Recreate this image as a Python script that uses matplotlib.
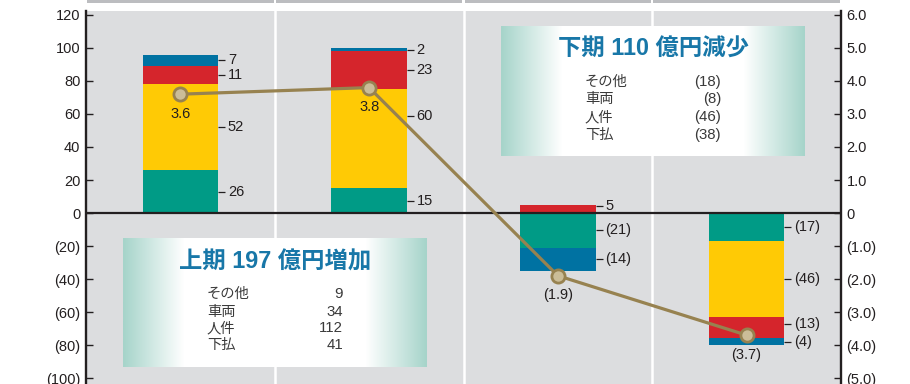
import numpy as np
import matplotlib
matplotlib.use("Agg")
import matplotlib.pyplot as plt
from matplotlib.patches import Rectangle
import matplotlib.transforms as mtransforms

plt.rcParams['font.family'] = ['Liberation Sans', 'Noto Sans CJK JP']

# data (億円) -- stacked bars per half-year column
shitabarai = [26, 15, -21, -17]   # teal
jinken = [52, 60, 0, -46]         # yellow
sharyo = [11, 23, 5, -13]         # red
sonota = [7, 2, -14, -4]          # blue
ratio = [3.6, 3.8, -1.9, -3.7]    # right axis line

y_ticks = [-100, -80, -60, -40, -20, 0, 20, 40, 60, 80, 100, 120]
y2_ticks = [-5.0, -4.0, -3.0, -2.0, -1.0, 0, 1.0, 2.0, 3.0, 4.0, 5.0, 6.0]

box_rows = ['その他', '車両', '人件', '下払']
box1_title = '上期 197 億円増加'
box1_vals = ['9', '34', '112', '41']
box2_title = '下期 110 億円減少'
box2_vals = ['(18)', '(8)', '(46)', '(38)']

series = [shitabarai, jinken, sharyo, sonota]
colors = ['#009b86', '#ffca05', '#d5252c', '#0072a2']
BG = '#dcdddf'
INK = '#231f20'
LINE = '#978250'


def paren(v, fmt='{:g}'):
    if v < 0:
        return '(' + fmt.format(-v) + ')'
    return fmt.format(v)


fig = plt.figure(figsize=(9.1, 3.84), dpi=100)
ax = fig.add_axes([86 / 910, 0, (841 - 86) / 910, 373 / 384])
ax.set_facecolor(BG)

x = np.arange(4)
width = 0.4
pos_bottom = np.zeros(4)
neg_bottom = np.zeros(4)
label_spots = []
for vals, c in zip(series, colors):
    vals = np.array(vals, dtype=float)
    bottom = np.where(vals >= 0, pos_bottom, neg_bottom)
    ax.bar(x, vals, width, bottom=bottom, color=c, zorder=3, linewidth=0)
    for i, v in enumerate(vals):
        if v != 0:
            label_spots.append((i, bottom[i] + v / 2, v))
    pos_bottom += np.where(vals > 0, vals, 0)
    neg_bottom += np.where(vals < 0, vals, 0)

# small nudges where the reference moves a label off its segment centre
nudge = {(2, 5.0): 1.9, (3, -13.0): 2.2, (1, 60.0): 14}
for i, ymid, v in label_spots:
    ymid += nudge.get((i, v), 0)
    x0 = i + width / 2
    ax.plot([x0, x0 + 0.037], [ymid, ymid], color=INK, lw=0.9, zorder=4,
            solid_capstyle='butt')
    ax.text(x0 + 0.052, ymid, paren(v), va='center', ha='left',
            fontsize=10.5, color=INK, zorder=4)

ax.set_xlim(-0.5, 3.5)
ax.set_ylim(-103.6, 122.4)
ax.set_xticks([])
ax.set_yticks(y_ticks)
ax.set_yticklabels([paren(v) for v in y_ticks])
for xs in [0.5, 1.5, 2.5]:
    ax.axvline(xs, color='white', lw=1.8, zorder=1)
ax.axhline(0, color=INK, lw=1.6, zorder=5)

for s in ['top', 'bottom', 'right']:
    ax.spines[s].set_visible(False)
ax.spines['left'].set_linewidth(1.7)
ax.spines['left'].set_color(INK)
ax.tick_params(axis='y', direction='in', length=5, width=1, colors=INK,
               labelsize=10.5, pad=4)

# header strip above the plot
blend = mtransforms.blended_transform_factory(ax.transData, ax.transAxes)
for i in range(4):
    ax.add_patch(Rectangle((i - 0.5 + 0.006, 1.0205), 1 - 0.012, 0.01,
                           transform=blend, color='#bcbdc0', clip_on=False,
                           lw=0))

ax2 = ax.twinx()
ax2.set_ylim(-103.6 / 20, 122.4 / 20)
ax2.set_yticks(y2_ticks)
ax2.set_yticklabels([paren(v, '{:.1f}') if v != 0 else '0' for v in y2_ticks])
for s in ['top', 'bottom', 'left']:
    ax2.spines[s].set_visible(False)
ax2.spines['right'].set_linewidth(1.7)
ax2.spines['right'].set_color(INK)
ax2.tick_params(axis='y', direction='in', length=5, width=1, colors=INK,
                labelsize=10.5, pad=4)
ax2.plot(x, ratio, color=LINE, lw=2.3, marker='o', ms=9.5,
         mfc='#cbbd98', mec=LINE, mew=2, zorder=6)
for i, v in enumerate(ratio):
    ax2.annotate(paren(v, '{:.1f}'), (i, v), xytext=(0, -9),
                 textcoords='offset points', ha='center', va='top',
                 fontsize=10.5, color=INK)

# gradient summary boxes
grad_x = np.linspace(0, 1, 300)
fade = np.clip(np.maximum(1 - grad_x / 0.2, (grad_x - 0.8) / 0.2), 0, 1)
edge = np.array([166, 212, 202]) / 255
img = 1 - fade[None, :, None] * (1 - edge[None, None, :])


def summary_box(rect, title, vals, title_y, rows_y, lab_x, val_x):
    bx = fig.add_axes(rect)
    bx.imshow(img, aspect='auto', extent=[0, 1, 0, 1])
    bx.set_xlim(0, 1)
    bx.set_ylim(0, 1)
    bx.axis('off')
    bx.text(0.5, title_y, title, ha='center', va='center', fontsize=16.8,
            fontweight='bold', color='#1877a8')
    for name, val, ry in zip(box_rows, vals, rows_y):
        bx.text(lab_x, ry, name, ha='left', va='center', fontsize=10.3,
                color='#3a3a3a')
        bx.text(val_x, ry, val, ha='right', va='center', fontsize=10.8,
                color='#3a3a3a')


rows = [1 - (294 - 238) / 129, 1 - (312 - 238) / 129,
        1 - (328 - 238) / 129, 1 - (345 - 238) / 129]
summary_box([123 / 910, (384 - 367) / 384, 304 / 910, 129 / 384],
            box1_title, box1_vals, 1 - 24 / 129, rows,
            (207 - 123) / 304, (343 - 123) / 304)
rows2 = [1 - (82 - 26) / 130, 1 - (99 - 26) / 130,
         1 - (117 - 26) / 130, 1 - (135 - 26) / 130]
summary_box([501 / 910, (384 - 156) / 384, 304 / 910, 130 / 384],
            box2_title, box2_vals, 1 - 23 / 130, rows2,
            (585 - 501) / 304, (721 - 501) / 304)

fig.savefig('out.png', dpi=100)
